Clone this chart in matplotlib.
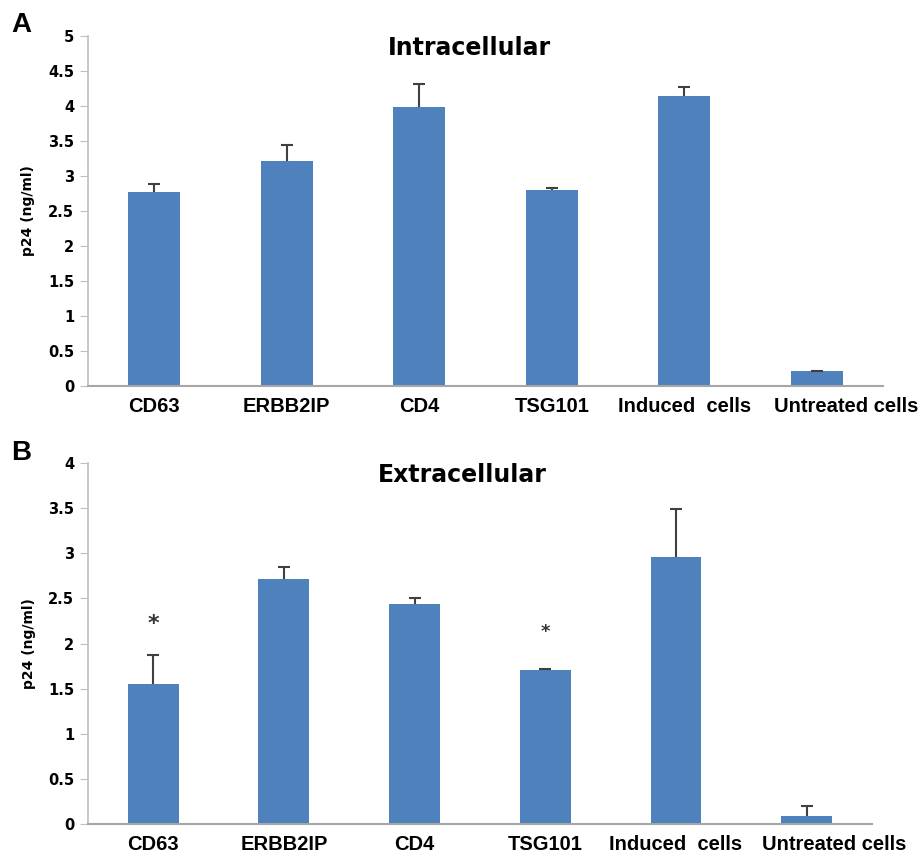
import matplotlib
matplotlib.use("Agg")
import matplotlib.pyplot as plt

cats = ["CD63", "ERBB2IP", "CD4", "TSG101", "Induced  cells", "Untreated cells"]

# panel A - intracellular p24
intra = [2.77, 3.21, 3.98, 2.80, 4.14, 0.21]
intra_err = [0.11, 0.24, 0.34, 0.03, 0.13, 0.01]

# panel B - extracellular p24
extra = [1.55, 2.71, 2.44, 1.71, 2.96, 0.09]
extra_err = [0.32, 0.14, 0.06, 0.01, 0.53, 0.11]
stars = {0: 2.22, 3: 2.13}

blue = "#4f81bd"
grey = "#bfbfbf"

fig = plt.figure(figsize=(9.22, 8.59), dpi=100)
axA = fig.add_axes([0.0954, 0.5506, 0.8623, 0.4074])
axB = fig.add_axes([0.0954, 0.0407, 0.8504, 0.4203])


def panel(ax, vals, errs, ymax, title, title_x, last_shift):
    x = list(range(len(cats)))
    ax.bar(x, vals, width=0.39, color=blue, zorder=2)
    _, caps, _ = ax.errorbar(x, vals, yerr=[[0] * len(errs), errs], fmt="none",
                             ecolor="#404040", elinewidth=1.5, capsize=4,
                             capthick=1.5, zorder=3)
    caps[0].set_visible(False)  # only the upper cap
    ax.set_xlim(-0.5, len(cats) - 0.5)
    ax.set_ylim(0, ymax)
    ticks = [i * 0.5 for i in range(int(ymax * 2) + 1)]
    ax.set_yticks(ticks)
    ax.set_yticklabels(["%g" % t for t in ticks], fontsize=10.5,
                       fontweight="bold", family="DejaVu Sans")
    # last label sits a bit right of its bar in the original
    xt = x[:-1] + [x[-1] + last_shift]
    ax.set_xticks(xt)
    ax.set_xticklabels(cats, fontsize=14.5, fontweight="bold", family="Liberation Sans")
    ax.tick_params(axis="x", length=0, pad=8)
    ax.tick_params(axis="y", length=6, color=grey, pad=4)
    for s in ["top", "right"]:
        ax.spines[s].set_visible(False)
    ax.spines["left"].set_color(grey)
    ax.spines["bottom"].set_color("#a6a6a6")
    ax.spines["left"].set_linewidth(1.2)
    ax.spines["bottom"].set_linewidth(1.5)
    ax.set_ylabel("p24 (ng/ml)", fontsize=10, fontweight="bold")
    ax.yaxis.set_label_coords(-0.066, 0.5)
    ax.text(title_x, 1.0, title, transform=ax.transAxes, ha="center", va="top",
            fontsize=17, fontweight="bold", family="DejaVu Sans")


panel(axA, intra, intra_err, 5, "Intracellular", 0.48, 0.22)
panel(axB, extra, extra_err, 4, "Extracellular", 0.477, 0.21)

for i, yv in stars.items():
    axB.text(i, yv, "*", ha="center", va="center", fontsize=16 if i == 0 else 13,
             fontweight="bold", color="#333333")

fig.text(0.012, 0.971, "A", fontsize=20, fontweight="bold", family="Liberation Sans", va="center")
fig.text(0.012, 0.4726, "B", fontsize=20, fontweight="bold", family="Liberation Sans", va="center")

fig.savefig("out.png", dpi=100)
